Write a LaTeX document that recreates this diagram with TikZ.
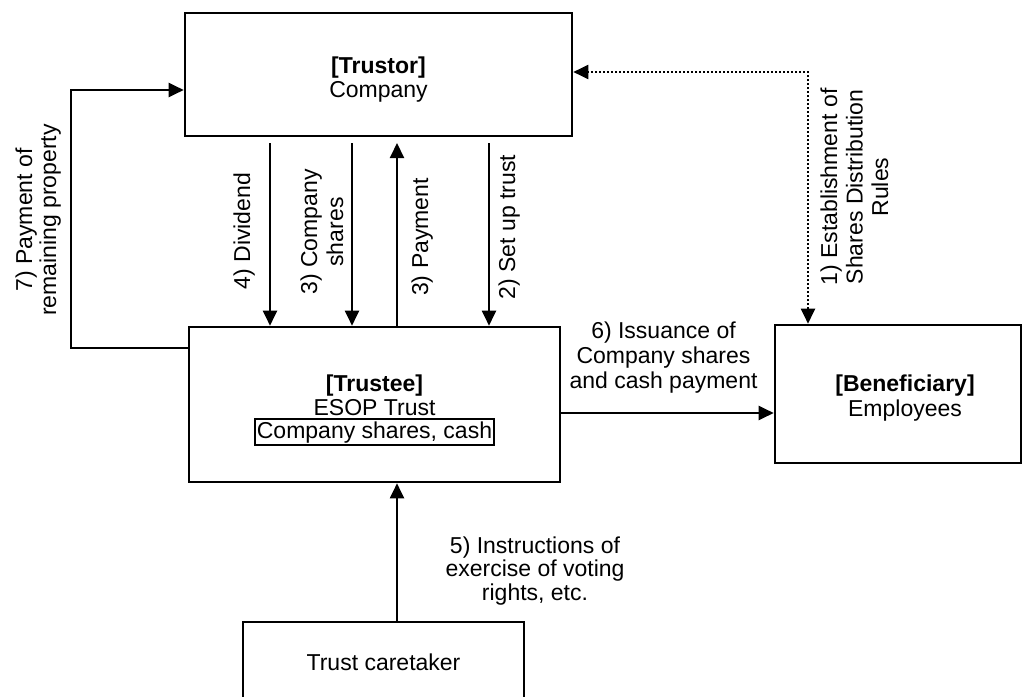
\documentclass[tikz,border=0pt]{standalone}
\usepackage{fontspec}
\setmainfont{Liberation Sans}
\usetikzlibrary{arrows.meta}
\begin{document}
\begin{tikzpicture}[x=1pt,y=-1pt,
  every node/.style={font=\fontsize{23}{25}\selectfont},
  box/.style={draw, line width=2.6pt, rectangle, inner sep=0pt},
  lbl/.style={align=center, anchor=base, inner sep=0pt},
  rlbl/.style={align=center, anchor=base, inner sep=0pt, rotate=90},
  arr/.style={line width=2pt, -{Triangle[length=15pt,width=14pt]}},
  dotl/.style={line width=2pt, dash pattern=on 2pt off 2pt,
    {Triangle[length=15pt,width=14pt]}-{Triangle[length=15pt,width=14pt]}},
]
\useasboundingbox (0,0) rectangle (1024,696);
% boxes
\node[box, minimum width=387pt, minimum height=123pt] (trustor) at (378.5,74.5) {};
\node[box, minimum width=371pt, minimum height=155pt] (trustee) at (374.5,404.5) {};
\node[box, minimum width=246pt, minimum height=138pt] (benef) at (898,394) {};
\node[box, line width=2pt, minimum width=281pt, minimum height=100pt] (caretaker) at (383.5,672) {};
% box texts (anchor = baseline of the last line)
\node[lbl, font=\fontsize{23}{24}\selectfont] (trustorT) at (378.5,97) {\textbf{[Trustor]}\\Company};
\node[lbl, font=\fontsize{23}{24}\selectfont] (trusteeT) at (374.5,415) {\textbf{[Trustee]}\\ESOP Trust};
\node[draw, line width=2.2pt, anchor=base, inner xsep=1.5pt, inner ysep=2.5pt] (holdings) at (374.5,438) {Company shares, cash};
\node[lbl] (benefT) at (905,416.5) {\textbf{[Beneficiary]}\\Employees};
\node[lbl] (caretakerT) at (383.5,670) {Trust caretaker};
% vertical arrows between trustor and trustee
\coordinate (d4) at (270,143);
\coordinate (d3) at (352,143);
\coordinate (u3) at (397,143);
\coordinate (d2) at (489,143);
\draw[arr] (d4) -- (d4 |- trustee.north);
\draw[arr] (d3) -- (d3 |- trustee.north);
\draw[arr] (u3 |- trustee.north) -- (u3);
\draw[arr] (d2) -- (d2 |- trustee.north);
\node[rlbl] (l4) at (250,231) {4) Dividend};
\node[rlbl, font=\fontsize{23}{26}\selectfont] (l3a) at (343,232) {3) Company\\shares};
\node[rlbl] (l3b) at (428,237) {3) Payment};
\node[rlbl] (l2) at (515,227) {2) Set up trust};
% 1) dotted
\coordinate (c1) at (808,72);
\draw[dotl] (benef.north -| c1) -- (c1) -- (c1 -| trustor.east);
\node[rlbl, font=\fontsize{23}{25.5}\selectfont] (l1) at (888,187) {1) Establishment of\\Shares Distribution\\Rules};
% 7) remaining property
\coordinate (c7a) at (71,348);
\coordinate (c7b) at (71,90);
\draw[arr] (c7a -| trustee.west) -- (c7a) -- (c7b) -- (c7b -| trustor.west);
\node[rlbl, font=\fontsize{23}{24}\selectfont] (l7) at (56,220) {7) Payment of\\remaining property};
% 6) issuance
\coordinate (a6) at (560,413);
\draw[arr] (trustee.east |- a6) -- (a6 -| benef.west);
\node[lbl] (l6) at (663.5,388) {6) Issuance of\\Company shares\\and cash payment};
% 5) instructions
\coordinate (a5) at (397,622);
\draw[arr] (a5) -- (a5 |- trustee.south);
\node[lbl, font=\fontsize{23}{23.5}\selectfont] (l5) at (535,600) {5) Instructions of\\exercise of voting\\rights, etc.};
\end{tikzpicture}
\end{document}
